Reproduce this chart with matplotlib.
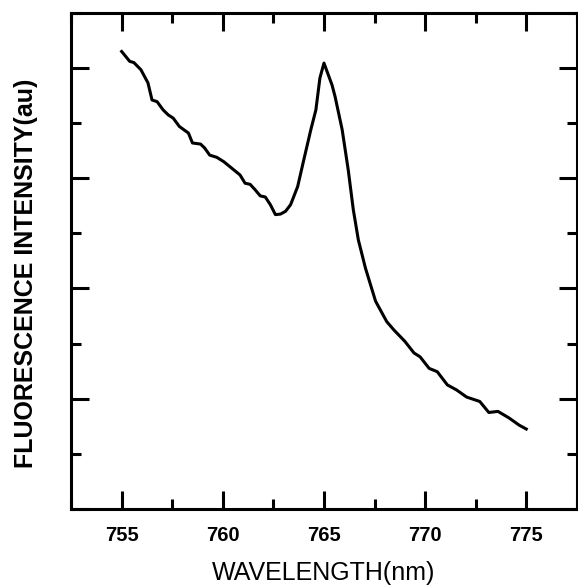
import matplotlib
matplotlib.use("Agg")
import matplotlib.pyplot as plt
from matplotlib.ticker import MultipleLocator, NullFormatter

# spectrum
wavelength = [755.0, 755.4, 755.6, 755.95, 756.3, 756.5, 756.75, 757.05, 757.3, 757.55,
              757.85, 758.3, 758.5, 758.9, 759.1, 759.35, 759.7, 760.05, 760.45, 760.85,
              761.1, 761.35, 761.6, 761.85, 762.1, 762.35, 762.6, 762.85, 763.1, 763.35,
              763.7, 764.0, 764.35, 764.6, 764.8, 765.0, 765.4, 765.55, 765.9, 766.2,
              766.45, 766.7, 767.05, 767.55, 768.1, 768.45, 769.0, 769.45, 769.75, 770.2,
              770.6, 771.1, 771.55, 772.05, 772.7, 773.15, 773.6, 774.15, 774.65, 775.0]
intensity = [8.30, 8.12, 8.10, 7.97, 7.73, 7.42, 7.39, 7.24, 7.15, 7.09,
             6.94, 6.82, 6.64, 6.62, 6.55, 6.42, 6.38, 6.30, 6.18, 6.06,
             5.91, 5.89, 5.79, 5.68, 5.66, 5.52, 5.34, 5.35, 5.40, 5.52,
             5.85, 6.33, 6.88, 7.24, 7.82, 8.09, 7.69, 7.48, 6.88, 6.15,
             5.43, 4.88, 4.37, 3.77, 3.40, 3.25, 3.04, 2.83, 2.76, 2.55,
             2.49, 2.25, 2.16, 2.03, 1.95, 1.75, 1.77, 1.65, 1.52, 1.45]

xticks = [755, 760, 765, 770, 775]

plt.rcParams['font.family'] = ['Liberation Sans', 'DejaVu Sans']

fig = plt.figure(figsize=(5.78, 5.87), dpi=100)
ax = fig.add_axes([0.123, 0.133, 0.875, 0.845])

ax.plot(wavelength, intensity, color="black", lw=2.2)

ax.set_xlim(752.5, 777.5)
ax.set_ylim(0, 9)
ax.set_xticks(xticks)
ax.xaxis.set_minor_locator(MultipleLocator(2.5))
ax.yaxis.set_major_locator(MultipleLocator(2))
ax.yaxis.set_minor_locator(MultipleLocator(1))
ax.yaxis.set_major_formatter(NullFormatter())

ax.tick_params(which="both", direction="in", top=True, right=True, width=2.2)
ax.tick_params(which="major", length=13)
ax.tick_params(which="minor", length=7)
ax.tick_params(axis="x", labelsize=14.5, pad=12)
for lab in ax.get_xticklabels():
    lab.set_fontweight("bold")
for s in ax.spines.values():
    s.set_linewidth(2.2)

ax.set_xlabel("WAVELENGTH(nm)", fontsize=18, labelpad=12)
ax.set_ylabel("FLUORESCENCE INTENSITY(au)", fontsize=18, fontweight="bold")
ax.yaxis.set_label_coords(-0.065, 0.476)

fig.savefig("out.png", dpi=100)
